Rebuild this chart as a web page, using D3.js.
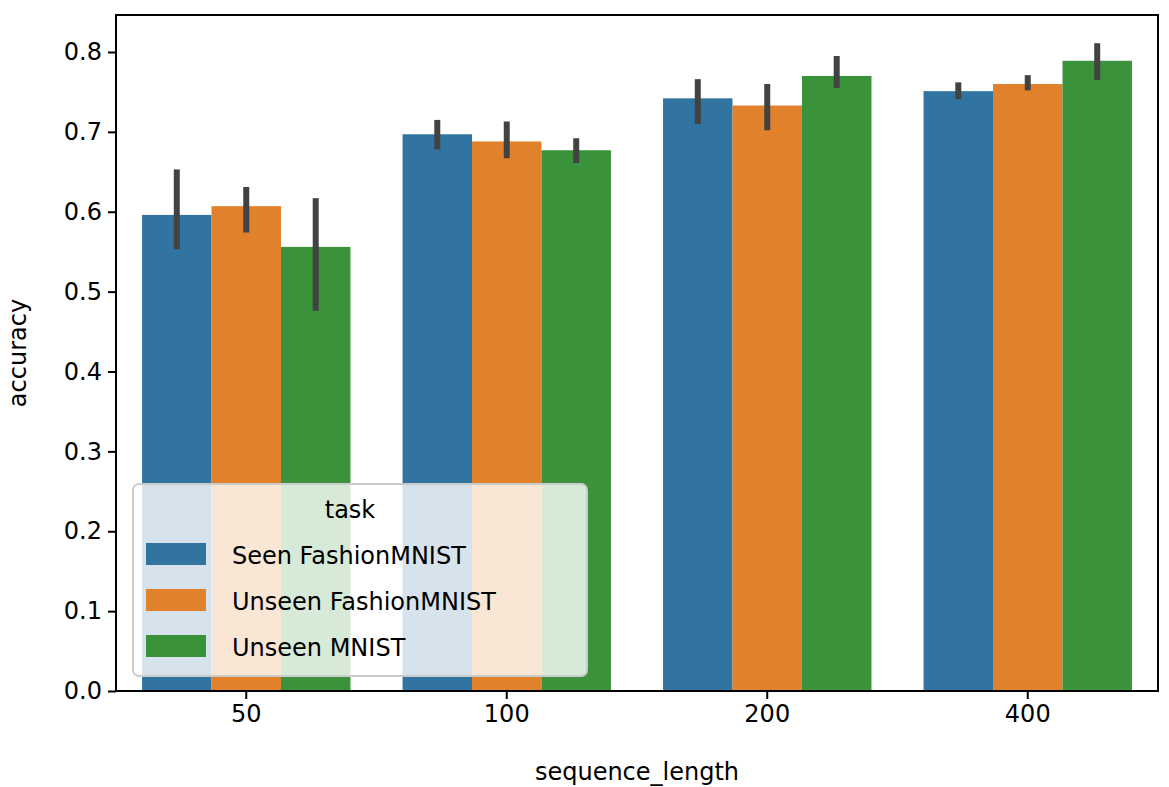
<!DOCTYPE html><html><head><meta charset="utf-8">
<script src="https://cdn.jsdelivr.net/npm/d3@7"></script>
<style>body{margin:0;background:#fff}text{font-family:"DejaVu Sans",sans-serif;fill:#000}</style></head>
<body><svg id="c" width="1169" height="787"></svg><script>
const categories=["50","100","200","400"];
const series=["Seen FashionMNIST","Unseen FashionMNIST","Unseen MNIST"];
const colors=["#3274a1","#e1812c","#3a923a"];
const values=[[0.596,0.697,0.742,0.751],[0.607,0.688,0.733,0.760],[0.556,0.677,0.770,0.789]];
const errLow=[[0.553,0.678,0.710,0.741],[0.574,0.667,0.702,0.752],[0.476,0.661,0.755,0.765]];
const errHigh=[[0.653,0.715,0.766,0.762],[0.631,0.713,0.760,0.771],[0.617,0.692,0.795,0.811]];
const yTicks=[0,0.1,0.2,0.3,0.4,0.5,0.6,0.7,0.8];
const svg=d3.select("#c");
const L=116,R=1158,T=15,B=691;
const x=d3.scaleBand().domain(categories).range([L,R]).paddingInner(0.2).paddingOuter(0.1);
const xs=d3.scaleBand().domain(series).range([0,x.bandwidth()]);
const y=d3.scaleLinear().domain([0,0.8]).range([B,52]);
series.forEach((s,i)=>{
 categories.forEach((c,j)=>{
  svg.append("rect").attr("x",x(c)+xs(s)).attr("width",xs.bandwidth()).attr("y",y(values[i][j])).attr("height",B-y(values[i][j])).attr("fill",colors[i]);
 });
});
series.forEach((s,i)=>{categories.forEach((c,j)=>{
  const cx=x(c)+xs(s)+xs.bandwidth()/2;
  svg.append("line").attr("x1",cx).attr("x2",cx).attr("y1",y(errLow[i][j])).attr("y2",y(errHigh[i][j])).attr("stroke","#424242").attr("stroke-width",6);
});});
const ya=svg.append("g").attr("transform",`translate(${L},0)`).call(d3.axisLeft(y).tickValues(yTicks).tickFormat(d3.format(".1f")).tickSize(8).tickPadding(6));
const xa=svg.append("g").attr("transform",`translate(0,${B})`).call(d3.axisBottom(x).tickSize(8).tickPadding(6));
[ya,xa].forEach(a=>{a.selectAll("text").attr("font-size",24).attr("font-family","DejaVu Sans");a.selectAll("line").attr("stroke-width",2);a.select(".domain").remove();});
svg.append("rect").attr("x",L).attr("y",T).attr("width",R-L).attr("height",B-T).attr("fill","none").attr("stroke","#000").attr("stroke-width",2);
svg.append("text").attr("x",(L+R)/2).attr("y",780).attr("text-anchor","middle").attr("font-size",24).text("sequence_length");
svg.append("text").attr("transform","translate(26,353) rotate(-90)").attr("text-anchor","middle").attr("font-size",24).text("accuracy");
const lg=svg.append("g");
lg.append("rect").attr("x",133).attr("y",484).attr("width",454).attr("height",192).attr("rx",6).attr("fill","rgba(255,255,255,0.8)").attr("stroke","#ccc").attr("stroke-width",2);
lg.append("text").attr("x",350).attr("y",518).attr("text-anchor","middle").attr("font-size",24).text("task");
series.forEach((s,i)=>{
 const yy=555+i*46;
 lg.append("rect").attr("x",146).attr("y",yy-12).attr("width",60).attr("height",22).attr("fill",colors[i]);
 lg.append("text").attr("x",232).attr("y",yy+9).attr("font-size",24).text(s);
});
</script></body></html>
